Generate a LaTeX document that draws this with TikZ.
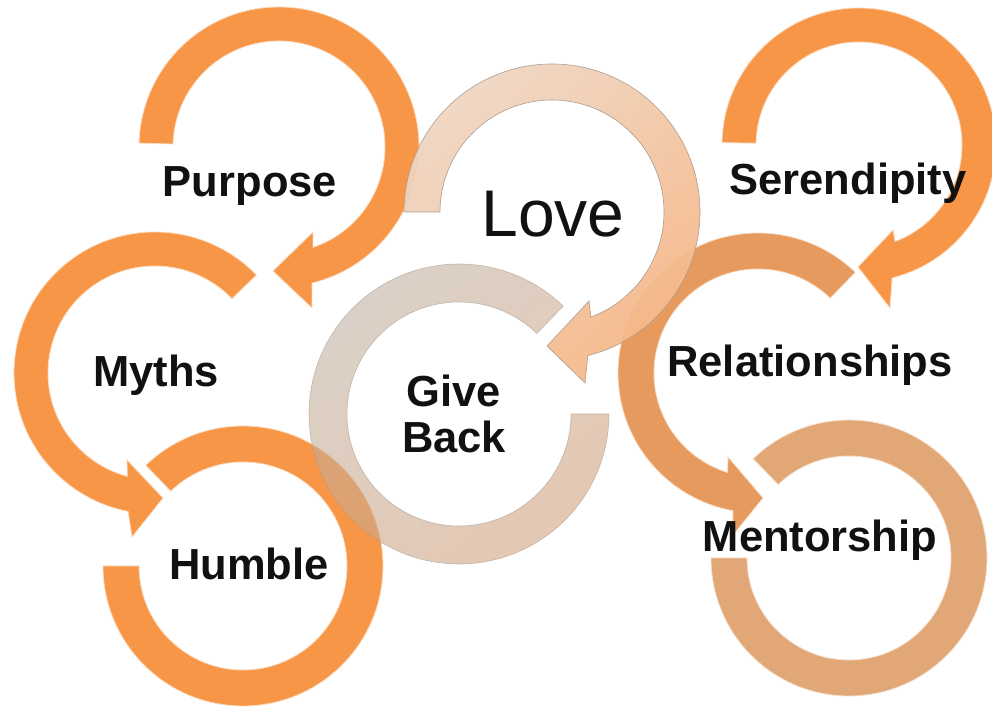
\documentclass[tikz,border=0pt]{standalone}
\usepackage{fontspec}
\setmainfont{Liberation Sans}
\definecolor{orA}{HTML}{F79646}
\definecolor{orRel}{HTML}{E79A5D}
\definecolor{orMen}{HTML}{E2A777}
\definecolor{loveA}{HTML}{EFD6C2}
\definecolor{loveB}{HTML}{F5B889}
\definecolor{gbA}{HTML}{C2B2A4}
\definecolor{gbB}{HTML}{D2A37F}
\definecolor{edgeC}{HTML}{A89A8C}
\definecolor{txt}{HTML}{111111}
\begin{document}
\begin{tikzpicture}[x=1pt,y=1pt,
  lbl/.style={font=\fontsize{43.5}{50}\selectfont\bfseries, text=txt, inner sep=0pt, anchor=base},
  bigl/.style={font=\fontsize{66}{72}\selectfont, text=txt, inner sep=0pt, anchor=base},
  ringfill/.style={fill=#1, draw=#1!35!white, line width=0.8pt}]
\useasboundingbox (0,0) rectangle (992,711);
\clip (0,0) rectangle (992,711);

% Purpose ring (clockwise arrow)
\begin{scope}[shift={(279,564)}]
\path[ringfill=orA] (178.4:140pt) arc[start angle=178.4, end angle=-76.4, radius=140pt]
  -- (33,-161) -- (-6,-124) -- (34,-85)
  -- (-71.3:106pt) arc[start angle=-71.3, end angle=178.4, radius=106pt] -- cycle;
\end{scope}

% Serendipity ring
\begin{scope}[shift={(859,566)}]
\path[ringfill=orA] (179:137pt) arc[start angle=179, end angle=-76, radius=137pt]
  -- (31,-163) -- (-1,-122) -- (34,-85)
  -- (-69.5:103pt) arc[start angle=-69.5, end angle=179, radius=103pt] -- cycle;
\end{scope}

% Myths ring (counterclockwise arrow)
\begin{scope}[shift={(155,338)}]
\path[ringfill=orA] (44:141pt) arc[start angle=44, end angle=259, radius=141pt]
  -- (-23,-164) -- (8,-125) -- (-28,-87)
  -- (255:107pt) arc[start angle=255, end angle=44, radius=107pt] -- cycle;
\end{scope}

% Relationships ring
\begin{scope}[shift={(758,338)}]
\path[ringfill=orRel] (46:140pt) arc[start angle=46, end angle=259.7, radius=140pt]
  -- (-25,-162) -- (5,-125) -- (-30,-84)
  -- (253:104pt) arc[start angle=253, end angle=46, radius=104pt] -- cycle;
\end{scope}

% Mentorship ring
\begin{scope}[shift={(849,153)}]
\path[ringfill=orMen] (134:138pt) arc[start angle=134, end angle=-180, radius=138pt]
  -- (-180:102pt) arc[start angle=-180, end angle=134, radius=102pt] -- cycle;
\end{scope}

% Humble ring
\begin{scope}[shift={(243,145)}]
\path[ringfill=orA] (134:140pt) arc[start angle=134, end angle=-180, radius=140pt]
  -- (-180:104pt) arc[start angle=-180, end angle=134, radius=104pt] -- cycle;
\end{scope}

% Give Back ring (semi-transparent)
\begin{scope}[shift={(459,297)}]
\shadedraw[left color=gbA, right color=gbB, shading angle=40, opacity=0.6, draw=edgeC, line width=0.6pt]
  (46:150pt) arc[start angle=46, end angle=360, radius=150pt]
  -- (0:112pt) arc[start angle=360, end angle=46, radius=112pt] -- cycle;
\end{scope}

% Love ring
\begin{scope}[shift={(552,499)}]
\shadedraw[top color=loveA, bottom color=loveB, shading angle=40, opacity=0.95, draw=edgeC, line width=0.6pt]
  (180:148pt) arc[start angle=180, end angle=-76, radius=148pt]
  -- (33,-171) -- (-5,-134) -- (37,-89)
  -- (-69.7:112pt) arc[start angle=-69.7, end angle=180, radius=112pt] -- cycle;
\end{scope}

% Labels
\node[lbl] (purpose) at (250,514) {Purpose};
\node[bigl] (love) at (553,474) {Love};
\node[lbl] (serendipity) at (848,516) {Serendipity};
\node[lbl] (myths) at (156,324) {Myths};
\node[lbl] (relationships) at (810,334) {Relationships};
\node[lbl] (give) at (454,304) {Give};
\node[lbl] (back) at (454,258) {Back};
\node[lbl] (humble) at (249,131) {Humble};
\node[lbl] (mentorship) at (820,159) {Mentorship};
\end{tikzpicture}
\end{document}
